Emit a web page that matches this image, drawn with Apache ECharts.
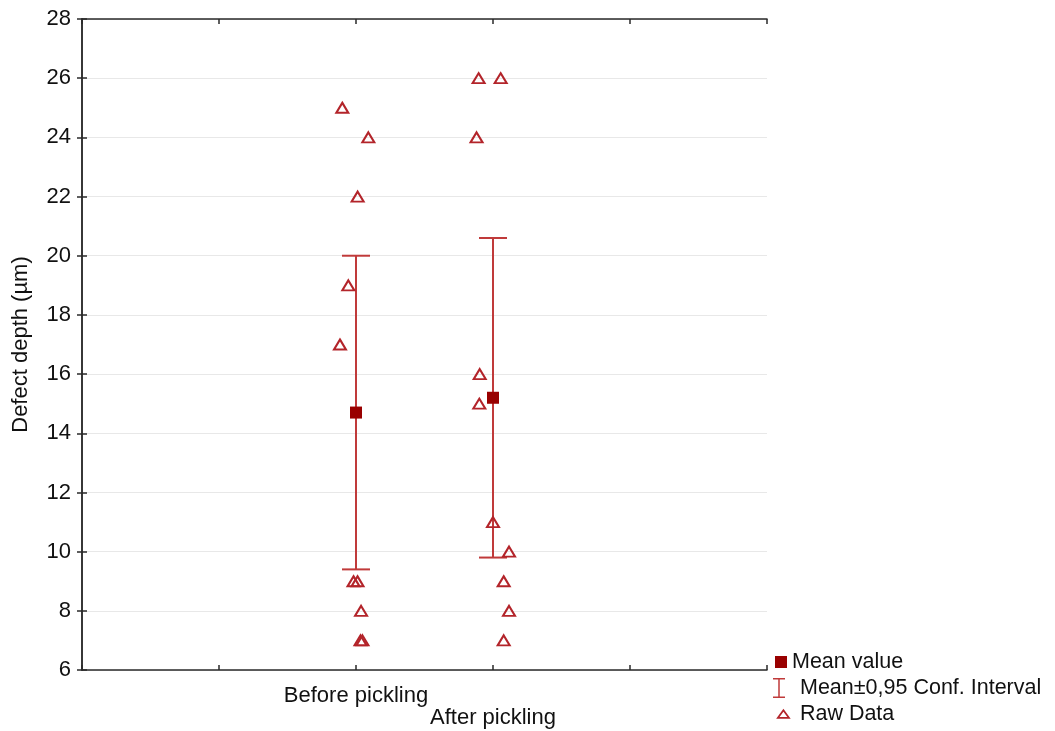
<!DOCTYPE html>
<html><head><meta charset="utf-8">
<script src="https://cdn.jsdelivr.net/npm/echarts@6/dist/echarts.min.js"></script>
<style>html,body{margin:0;padding:0;background:#fff}#c{width:1055px;height:731px}</style>
</head><body><div id="c"></div>
<script>
// ---- data ----
const groups = ['Before pickling', 'After pickling'];
const groupPos = [2, 3];
const beforeValues = [25, 24, 22, 19, 17, 9, 9, 8, 7, 7];
const beforeJitter = [-0.10, 0.09, 0.012, -0.056, -0.117, -0.018, 0.011, 0.037, 0.033, 0.047];
const afterValues = [26, 26, 24, 16, 15, 11, 10, 9, 8, 7];
const afterJitter = [-0.105, 0.056, -0.12, -0.097, -0.10, 0, 0.117, 0.078, 0.117, 0.078];
const means = [14.7, 15.2];
const ciLow = [9.4, 9.8];
const ciHigh = [20.0, 20.6];
const yMin = 6, yMax = 28, yStep = 2;
const xMin = 0, xMax = 5, xStep = 1;

// ---- styles ----
const FONT = "'Liberation Sans', Arial, Helvetica, sans-serif";
const meanColor = '#990000';
const barColor = '#c03a3a';
const rawColor = '#b3242a';
const axisColor = '#2a2a2a';
const textColor = '#111111';

const rawData = [];
beforeValues.forEach((v, i) => rawData.push([groupPos[0] + beforeJitter[i], v]));
afterValues.forEach((v, i) => rawData.push([groupPos[1] + afterJitter[i], v]));
const ciData = groupPos.map((x, i) => [x, ciLow[i], ciHigh[i]]);
const meanData = groupPos.map((x, i) => [x, means[i]]);

const axisLine = { show: true, lineStyle: { color: axisColor, width: 1.5 } };
const axisTick = { show: true, inside: true, length: 5, lineStyle: { color: axisColor, width: 1.5 } };

const chart = echarts.init(document.getElementById('c'), null, { renderer: 'canvas' });
chart.setOption({
  animation: false,
  backgroundColor: '#ffffff',
  textStyle: { fontFamily: FONT },
  grid: { left: 82, right: 288, top: 19, bottom: 61, containLabel: false },
  xAxis: [
    {
      type: 'value', min: xMin, max: xMax, interval: xStep, position: 'bottom',
      axisLine, axisTick, splitLine: { show: false },
      axisLabel: {
        margin: 15, fontSize: 22, lineHeight: 22, color: textColor, fontFamily: FONT,
        showMinLabel: true, showMaxLabel: true,
        formatter: (v) => {
          const i = groupPos.indexOf(v);
          if (i < 0) return '';
          return (i % 2 === 1 ? '\n' : '') + groups[i];
        }
      }
    },
    {
      type: 'value', min: xMin, max: xMax, interval: xStep, position: 'top',
      axisLine, axisTick, axisLabel: { show: false }, splitLine: { show: false }
    }
  ],
  yAxis: [
    {
      type: 'value', min: yMin, max: yMax, interval: yStep, position: 'left',
      name: 'Defect depth (µm)', nameLocation: 'middle', nameGap: 50,
      nameTextStyle: { fontSize: 22, color: textColor, fontFamily: FONT },
      axisLine, axisTick,
      splitLine: { show: true, lineStyle: { color: '#e8e8e8', width: 1.2 } },
      axisLabel: { margin: 11, fontSize: 22, color: textColor, fontFamily: FONT }
    },
    {
      type: 'value', min: yMin, max: yMax, interval: yStep, position: 'right',
      axisLine, axisTick, axisLabel: { show: false }, splitLine: { show: false }
    }
  ],
  legend: [
    {
      data: [{ name: 'Mean value', icon: 'rect', itemStyle: { color: meanColor, borderWidth: 0 } }],
      left: 775, top: 651, itemWidth: 12, itemHeight: 12, padding: 0, selectedMode: false,
      textStyle: { fontSize: 21.5, color: textColor, fontFamily: FONT }
    },
    {
      data: [{
        name: 'Mean±0,95 Conf. Interval',
        icon: 'path://M0,0M22,21M0,0.5H12V2H6.75V19H12V20.5H0V19H5.25V2H0Z',
        itemStyle: { color: barColor, borderWidth: 0 }
      }],
      left: 773, top: 677, itemWidth: 22, itemHeight: 21, padding: 0, selectedMode: false,
      textStyle: { fontSize: 21.5, color: textColor, fontFamily: FONT }
    },
    {
      data: [{
        name: 'Raw Data',
        icon: 'path://M0,0M17,21M3.5,6L10,15H-3Z',
        itemStyle: { color: 'rgba(0,0,0,0)', borderColor: rawColor, borderWidth: 1.8 }
      }],
      left: 777, top: 703, itemWidth: 17, itemHeight: 21, padding: 0, selectedMode: false,
      textStyle: { fontSize: 21.5, color: textColor, fontFamily: FONT }
    }
  ],
  series: [
    {
      name: 'Mean±0,95 Conf. Interval',
      type: 'custom',
      xAxisIndex: 0, yAxisIndex: 0,
      data: ciData,
      encode: { x: 0, y: [1, 2] },
      itemStyle: { color: barColor },
      z: 2,
      renderItem: (params, api) => {
        const x = api.value(0);
        const lo = api.coord([x, api.value(1)]);
        const hi = api.coord([x, api.value(2)]);
        const w = 14;
        const style = { stroke: barColor, lineWidth: 2, fill: null };
        return {
          type: 'group',
          children: [
            { type: 'line', shape: { x1: lo[0], y1: lo[1], x2: hi[0], y2: hi[1] }, style },
            { type: 'line', shape: { x1: lo[0] - w, y1: lo[1], x2: lo[0] + w, y2: lo[1] }, style },
            { type: 'line', shape: { x1: hi[0] - w, y1: hi[1], x2: hi[0] + w, y2: hi[1] }, style }
          ]
        };
      }
    },
    {
      name: 'Raw Data',
      type: 'scatter',
      xAxisIndex: 0, yAxisIndex: 0,
      data: rawData,
      symbol: 'triangle',
      symbolSize: [12, 10],
      itemStyle: { color: 'rgba(0,0,0,0)', borderColor: rawColor, borderWidth: 2, opacity: 1 },
      z: 3
    },
    {
      name: 'Mean value',
      type: 'scatter',
      xAxisIndex: 0, yAxisIndex: 0,
      data: meanData,
      symbol: 'rect',
      symbolSize: 12,
      itemStyle: { color: meanColor, opacity: 1 },
      z: 4
    }
  ]
});
</script>
</body></html>
